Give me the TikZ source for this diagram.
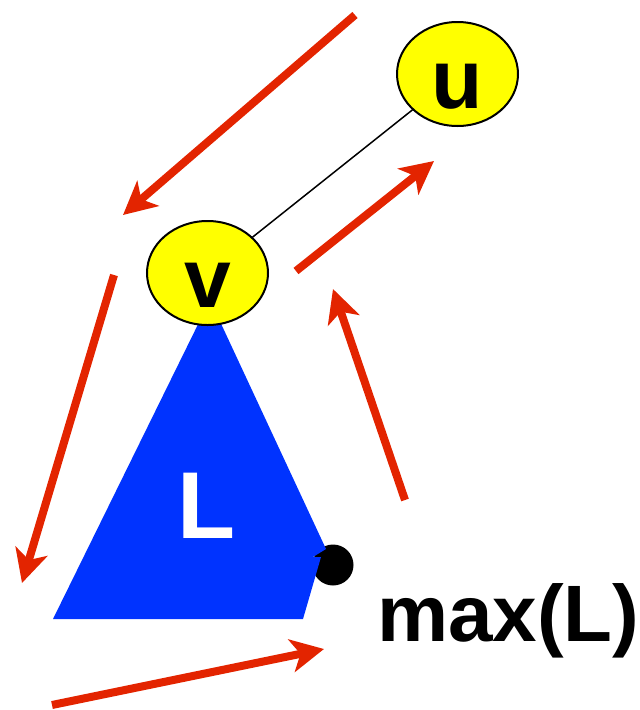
\documentclass[tikz,border=0pt]{standalone}
\usepackage{fontspec}
\setmainfont{Liberation Sans}
\usepackage{tikz}
\usetikzlibrary{arrows.meta, shapes.geometric}
\definecolor{arrred}{RGB}{227,36,0}
\definecolor{triblue}{RGB}{0,51,255}
\definecolor{nodeyellow}{RGB}{255,255,0}

\begin{document}
\begin{tikzpicture}[x=1pt, y=-1pt,
      vert/.style={ellipse, draw=black, line width=2pt, fill=nodeyellow, inner sep=0pt,
                   minimum width=121pt, minimum height=104pt,
                   text height=68pt, text depth=0pt,
                   font=\fontsize{84}{84}\selectfont\bfseries},
      arr/.style={-{Stealth[length=33pt, width=33pt, inset=9pt]}, line width=8pt, arrred},
      big/.style={inner sep=0pt, font=\fontsize{80}{80}\selectfont\bfseries}]
    \useasboundingbox (0,0) rectangle (640,710);
    % subtree L with its maximum
    \node[circle, fill=black, minimum size=41pt, inner sep=0pt] (maxdot) at (333,565) {};
    \fill[triblue] (210,300) -- (326,549) -- (313,557) -- (321,557) -- (303,619) -- (53,619) -- cycle;
    \node[white, inner sep=0pt, font=\fontsize{95}{95}\selectfont\bfseries] (lsub) at (207,506) {L};
    \node[big, anchor=base west] (maxl) at (377,641) {max(L)};
    % nodes u and v
    \node[vert] (u) at (457.5,74) {u};
    \node[vert] (v) at (207.5,273) {v};
    \draw[line width=1.5pt] (v) -- (u);
    % walk around the tree
    \coordinate (a1s) at (355,15);  \coordinate (a1e) at (123,215);
    \coordinate (a2s) at (114,275); \coordinate (a2e) at (22,583);
    \coordinate (a3s) at (52,705);  \coordinate (a3e) at (324,649);
    \coordinate (a4s) at (405,500); \coordinate (a4e) at (333,289);
    \coordinate (a5s) at (296,271); \coordinate (a5e) at (434,161);
    \draw[arr] (a1s) -- (a1e);
    \draw[arr] (a2s) -- (a2e);
    \draw[arr] (a3s) -- (a3e);
    \draw[arr] (a4s) -- (a4e);
    \draw[arr] (a5s) -- (a5e);
  \end{tikzpicture}
\end{document}
